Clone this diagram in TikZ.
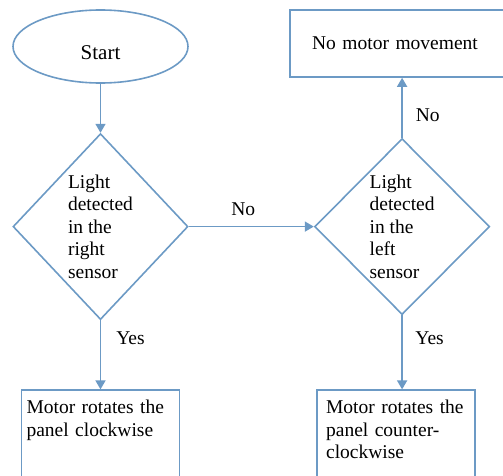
\documentclass[tikz,border=0pt]{standalone}
\usepackage{fontspec}
\setmainfont{Liberation Serif}
\usepackage{tikz}
\usetikzlibrary{shapes.geometric, arrows.meta, positioning, calc}
\definecolor{flowblue}{RGB}{108,154,197}
\newcommand{\flowfont}{\fontsize{19.5pt}{22.5pt}\selectfont}

\begin{document}
\begin{tikzpicture}[
    font=\flowfont,
    startstop/.style={ellipse, draw=flowblue, line width=1.6pt, minimum width=175pt, minimum height=73pt, text height=27pt, font=\fontsize{21pt}{24pt}\selectfont},
    decision/.style={diamond, draw=flowblue, line width=1.6pt, aspect=1, align=left, inner sep=0pt, minimum width=175pt},
    outbox/.style={rectangle, draw=flowblue, line width=1.6pt, align=left},
    actbox/.style={outbox, minimum width=158pt, inner ysep=10pt, text depth=90pt},
    lbl/.style={inner sep=2pt, text=black},
    arr/.style={-{Triangle[length=9pt, width=10pt]}, flowblue, line width=1.6pt}
]
\useasboundingbox (0,0) rectangle (503pt,-476pt);

\node[startstop] (start) at (100.5pt,-46.5pt) {Start};
\node[decision, minimum height=186pt, below=49pt of start] (rdec) {Light\\detected\\in the\\right\\sensor};
\node[decision, minimum height=176pt, right=125pt of rdec] (ldec) {Light\\detected\\in the\\left\\sensor};
\node[outbox, minimum width=224pt, minimum height=67pt, text width=180pt, inner xsep=22pt, above=60pt of ldec] (nomove) {No motor movement};
\node[actbox, text width=148pt, inner xsep=5pt, below=69pt of rdec] (cwbox) {Motor rotates the\\panel clockwise};
\node[actbox, text width=140pt, inner xsep=9pt, below=74pt of ldec, xshift=-6pt] (ccwbox) {Motor rotates the\\panel counter-\\clockwise};

\draw[arr] (start) -- (rdec);
\draw[arr] (rdec) -- node[lbl, pos=0.436, above=8pt] {No} (ldec);
\draw[arr] (ldec) -- node[lbl, pos=0.37, right=11pt] {No} (nomove);
\draw[arr] (rdec) -- node[lbl, pos=0.26, right=13pt] {Yes} (cwbox);
\draw[arr] (ldec.south) -- node[lbl, pos=0.31, right=10.5pt] {Yes} (ldec.south |- ccwbox.north);

\end{tikzpicture}
\end{document}
